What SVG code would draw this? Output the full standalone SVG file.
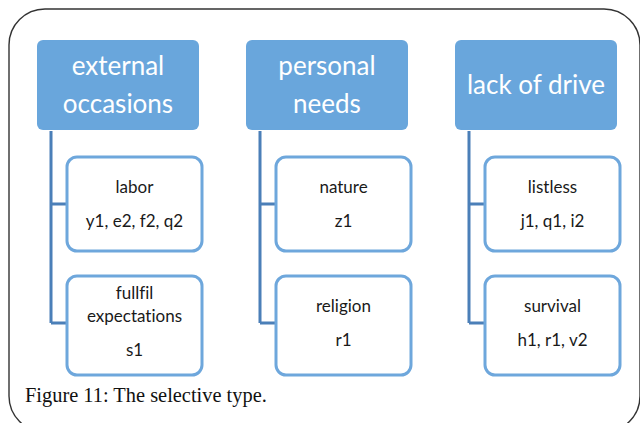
<svg xmlns="http://www.w3.org/2000/svg" width="640" height="423" viewBox="0 0 640 423">
  <style>
    .frame { fill: #ffffff; stroke: #333333; stroke-width: 1.4; }
    .head rect { fill: #69a6dc; }
    .head text { fill: #ffffff; font-family: Lato, "Liberation Sans", sans-serif; font-size: 26px; text-anchor: middle; }
    .item rect { fill: #ffffff; stroke: #6ea7dc; stroke-width: 3; }
    .item text { fill: #1a1a1a; font-family: Lato, "Liberation Sans", sans-serif; font-size: 17px; text-anchor: middle; font-variant-ligatures: none; }
    .links path { fill: none; stroke: #4b7fb8; stroke-width: 3; }
    .caption { fill: #111111; font-family: "Liberation Serif", serif; font-size: 20.4px; }
  </style>

  <!-- rounded outer frame -->
  <rect class="frame" x="9" y="9" width="631" height="423" rx="36" ry="36"/>

  <!-- tree connectors -->
  <g id="connectors" class="links">
    <path d="M51 131 V323 M51 204 H67 M51 323 H67"/>
    <path d="M260 131 V323 M260 204 H276 M260 323 H276"/>
    <path d="M469 131 V323 M469 204 H485 M469 323 H485"/>
  </g>

  <!-- column headers -->
  <g id="head-external" class="head">
    <rect x="37" y="40" width="162" height="90" rx="6"/>
    <text x="118" y="75">external</text>
    <text x="118" y="113">occasions</text>
  </g>
  <g id="head-personal" class="head">
    <rect x="246" y="40" width="162" height="90" rx="6"/>
    <text x="327" y="75">personal</text>
    <text x="327" y="113">needs</text>
  </g>
  <g id="head-lack" class="head">
    <rect x="455" y="40" width="162" height="90" rx="6"/>
    <text x="536" y="94">lack of drive</text>
  </g>

  <!-- child items -->
  <g id="item-labor" class="item">
    <rect x="67" y="157" width="135" height="94" rx="10"/>
    <text x="134.5" y="193">labor</text>
    <text x="134.5" y="227">y1, e2, f2, q2</text>
  </g>
  <g id="item-fullfil" class="item">
    <rect x="67" y="276" width="135" height="99" rx="10"/>
    <text x="134.5" y="299">fullfil</text>
    <text x="134.5" y="322">expectations</text>
    <text x="134.5" y="356">s1</text>
  </g>
  <g id="item-nature" class="item">
    <rect x="276" y="157" width="135" height="94" rx="10"/>
    <text x="343.5" y="193">nature</text>
    <text x="343.5" y="227">z1</text>
  </g>
  <g id="item-religion" class="item">
    <rect x="276" y="276" width="135" height="99" rx="10"/>
    <text x="343.5" y="312">religion</text>
    <text x="343.5" y="346">r1</text>
  </g>
  <g id="item-listless" class="item">
    <rect x="485" y="157" width="135" height="94" rx="10"/>
    <text x="552.5" y="193">listless</text>
    <text x="552.5" y="227">j1, q1, i2</text>
  </g>
  <g id="item-survival" class="item">
    <rect x="485" y="276" width="135" height="99" rx="10"/>
    <text x="552.5" y="312">survival</text>
    <text x="552.5" y="346">h1, r1, v2</text>
  </g>

  <text class="caption" x="25" y="402">Figure 11: The selective type.</text>
</svg>
